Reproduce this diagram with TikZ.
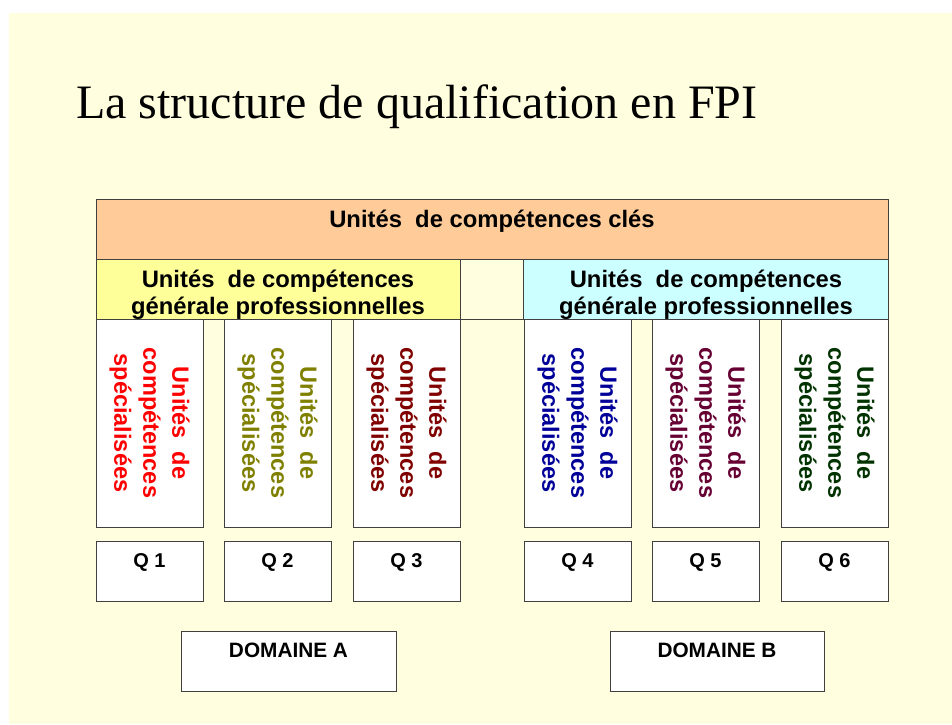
\documentclass[tikz,border=0pt]{standalone}
\usepackage{fontspec}
\setmainfont{Liberation Sans}
\newfontfamily\titlefont{Liberation Serif}
\definecolor{bgyellow}{HTML}{FFFFE0}
\definecolor{orangefill}{HTML}{FFCC99}
\definecolor{yellowfill}{HTML}{FFFF99}
\definecolor{cyanfill}{HTML}{CCFFFF}
\definecolor{cone}{HTML}{FF0000}
\definecolor{ctwo}{HTML}{808000}
\definecolor{cthree}{HTML}{800000}
\definecolor{cfour}{HTML}{000099}
\definecolor{cfive}{HTML}{660033}
\definecolor{csix}{HTML}{003300}
\begin{document}
\begin{tikzpicture}[x=1pt,y=-1pt,
  box/.style={draw=black!75, line width=0.9pt, inner sep=0pt, outer sep=0pt, anchor=north west},
  colbox/.style={box, fill=white, minimum width=107, minimum height=208},
  qbox/.style={box, fill=white, minimum width=107, minimum height=60},
  dombox/.style={box, fill=white, minimum height=60},
  lbl/.style={inner sep=0pt, font=\bfseries\fontsize{23.8}{27}\selectfont, align=center},
  qlbl/.style={inner sep=0pt, anchor=base, font=\bfseries\fontsize{20}{24}\selectfont},
  domlbl/.style={qlbl, font=\bfseries\fontsize{20.8}{24}\selectfont},
  coltxt/.style={inner sep=0pt, rotate=-90, align=center, font=\bfseries\fontsize{23.5}{29}\selectfont}]
\useasboundingbox (0,0) rectangle (952,724);
\fill[white] (0,0) rectangle (952,724);
\fill[bgyellow] (9,13) rectangle (952,724);
% title
\node[inner sep=0pt, anchor=base west, font=\titlefont\fontsize{48}{56}\selectfont] (title) at (76,118) {La structure de qualification en FPI};
% top boxes
\node[box, fill=orangefill, minimum width=792, minimum height=60] (cles) at (96,199) {};
\node[lbl, anchor=base] (clestxt) at (492,227) {Unités\ \ de compétences clés};
\node[box, fill=yellowfill, minimum width=364, minimum height=60] (genA) at (96,259) {};
\node[box, fill=bgyellow, minimum width=63, minimum height=60] (gap) at (460,259) {};
\node[box, fill=cyanfill, minimum width=365, minimum height=60] (genB) at (523,259) {};
\node[lbl, anchor=base] (genAtxt) at (278,314) {Unités\ \ de compétences\\générale professionnelles};
\node[lbl, anchor=base] (genBtxt) at (706,314) {Unités\ \ de compétences\\générale professionnelles};
% columns
\node[colbox] (c1) at (96,319) {};
\node[colbox] (c2) at (224,319) {};
\node[colbox] (c3) at (353,319) {};
\node[colbox] (c4) at (524,319) {};
\node[colbox] (c5) at (652,319) {};
\node[colbox] (c6) at (781,319) {};
\node[coltxt, text=cone] (t1) at (c1.center) {Unités\ \ de\\compétences\\spécialisées};
\node[coltxt, text=ctwo] (t2) at (c2.center) {Unités\ \ de\\compétences\\spécialisées};
\node[coltxt, text=cthree] (t3) at (c3.center) {Unités\ \ de\\compétences\\spécialisées};
\node[coltxt, text=cfour] (t4) at (c4.center) {Unités\ \ de\\compétences\\spécialisées};
\node[coltxt, text=cfive] (t5) at (c5.center) {Unités\ \ de\\compétences\\spécialisées};
\node[coltxt, text=csix] (t6) at (c6.center) {Unités\ \ de\\compétences\\spécialisées};
% Q boxes
\node[qbox] (q1) at (96,541) {};
\node[qbox] (q2) at (224,541) {};
\node[qbox] (q3) at (353,541) {};
\node[qbox] (q4) at (524,541) {};
\node[qbox] (q5) at (652,541) {};
\node[qbox] (q6) at (781,541) {};
\node[qlbl] (q1t) at (149.5,567) {Q 1};
\node[qlbl] (q2t) at (277.5,567) {Q 2};
\node[qlbl] (q3t) at (406.5,567) {Q 3};
\node[qlbl] (q4t) at (577.5,567) {Q 4};
\node[qlbl] (q5t) at (705.5,567) {Q 5};
\node[qlbl] (q6t) at (834.5,567) {Q 6};
% domains
\node[dombox, minimum width=215] (domA) at (181,631) {};
\node[dombox, minimum width=214] (domB) at (610,631) {};
\node[domlbl] (domAt) at (288.5,657) {DOMAINE A};
\node[domlbl] (domBt) at (717,657) {DOMAINE B};
\end{tikzpicture}
\end{document}
